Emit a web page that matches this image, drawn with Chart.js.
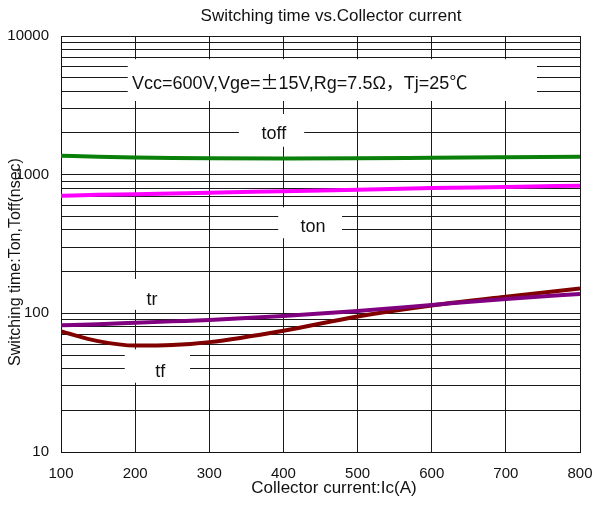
<!DOCTYPE html>
<html>
<head>
<meta charset="utf-8">
<script src="https://cdn.jsdelivr.net/npm/chart.js@4"></script>
<style>
html,body{margin:0;padding:0;background:#fff;}
canvas{display:block;}
</style>
</head>
<body>
<canvas id="c" width="599" height="506"></canvas>
<script>
// ---- data ----
const currents = [100, 150, 200, 250, 300, 400, 500, 600, 700, 800];
const toff = [1370, 1345, 1330, 1320, 1315, 1310, 1315, 1325, 1335, 1345];
const ton  = [705, 715, 722, 731, 740, 760, 780, 800, 815, 833];
const tr   = [82, 83.5, 85.5, 87.5, 89.5, 95.5, 104, 115, 127, 138];
const tf   = [74, 63, 58.5, 59, 62, 75, 95, 114, 132, 151];

const xTickValues = [100, 200, 300, 400, 500, 600, 700, 800];
const yGridValues = [10,20,30,40,50,60,70,80,90,
                     100,200,300,400,500,600,700,800,900,
                     1000,2000,3000,4000,5000,6000,7000,8000,9000,10000];
const yTickLabels = [10, 100, 1000, 10000];

const chartTitle = 'Switching time vs.Collector current';
const xTitle = 'Collector current:Ic(A)';
const yTitle = 'Switching time:Ton,Toff(nsec)';
const seriesNames = ['toff', 'ton', 'tr', 'tf'];

// ---- annotation layout (data coordinates) ----
const LATIN = '"Liberation Sans", Arial, sans-serif';
const CJK = '"Noto Sans CJK SC", sans-serif';
const labelBoxes = [
  {x0: 190, x1: 742, y0: 3400, y1: 6800},
  {x0: 340, x1: 428, y0: 1590, y1: 2740},
  {x0: 393, x1: 479, y0: 348,  y1: 582},
  {x0: 186, x1: 260, y0: 106,  y1: 177},
  {x0: 186, x1: 274, y0: 31.6, y1: 55}
];
const seriesLabelPos = [
  {x: 387, y: 1808},
  {x: 440, y: 383},
  {x: 222.7, y: 114.9},
  {x: 234, y: 35}
];
const conditionPos = {x: 195.8, y: 4147};
const conditionRuns = [
  {t: 'Vcc=600V,Vge=', f: LATIN},
  {t: '\u00B1', f: CJK, em: 1, center: true},
  {t: '15V,Rg=7.5\u03A9', f: LATIN},
  {t: '\uFF0C', f: CJK, em: 1},
  {t: 'Tj=25', f: LATIN},
  {t: '\u2103', f: CJK, em: 1}
];

function drawRuns(ctx, runs, x, y, size) {
  ctx.textAlign = 'left';
  ctx.textBaseline = 'alphabetic';
  let cx = x;
  for (const r of runs) {
    ctx.font = size + 'px ' + r.f;
    const w = ctx.measureText(r.t).width;
    if (r.em) {
      const adv = r.em * size;
      ctx.fillText(r.t, r.center ? cx + (adv - w) / 2 : cx, y);
      cx += adv;
    } else {
      ctx.fillText(r.t, cx, y);
      cx += w;
    }
  }
}

const annotations = {
  id: 'annotations',
  beforeDraw(chart) {
    const ctx = chart.ctx;
    ctx.save();
    ctx.fillStyle = '#fff';
    ctx.fillRect(0, 0, chart.width, chart.height);
    ctx.restore();
  },
  beforeDatasetsDraw(chart) {
    const {ctx, scales: {x, y}} = chart;
    ctx.save();
    ctx.fillStyle = '#fff';
    for (const b of labelBoxes) {
      const l = x.getPixelForValue(b.x0), r = x.getPixelForValue(b.x1);
      const t = y.getPixelForValue(b.y1), btm = y.getPixelForValue(b.y0);
      ctx.fillRect(l, t, r - l, btm - t);
    }
    ctx.restore();
  },
  afterDatasetsDraw(chart) {
    const {ctx, scales: {x, y}} = chart;
    ctx.save();
    ctx.fillStyle = '#111';
    ctx.font = '18px ' + LATIN;
    ctx.textAlign = 'center';
    ctx.textBaseline = 'alphabetic';
    seriesNames.forEach((n, i) => {
      const p = seriesLabelPos[i];
      ctx.fillText(n, x.getPixelForValue(p.x), y.getPixelForValue(p.y));
    });
    drawRuns(ctx, conditionRuns, x.getPixelForValue(conditionPos.x), y.getPixelForValue(conditionPos.y), 18);
    ctx.font = '17px ' + LATIN;
    ctx.textAlign = 'center';
    ctx.fillText(chartTitle, 331, 21);
    ctx.fillText(xTitle, 334, 493);
    ctx.save();
    ctx.translate(20, 262);
    ctx.rotate(-Math.PI / 2);
    ctx.font = '16px ' + LATIN;
    ctx.fillText(yTitle, 0, 0);
    ctx.restore();
    ctx.restore();
  }
};

const pts = arr => currents.map((c, i) => ({x: c, y: arr[i]}));
const colors = ['#0a800a', '#ff00ff', '#800080', '#800000'];
const seriesData = [toff, ton, tr, tf];

new Chart(document.getElementById('c'), {
  type: 'line',
  data: {
    datasets: seriesData.map((arr, i) => ({
      label: seriesNames[i],
      data: pts(arr),
      borderColor: colors[i],
      borderWidth: 4,
      pointRadius: 0,
      fill: false,
      cubicInterpolationMode: 'monotone'
    }))
  },
  options: {
    responsive: false,
    animation: false,
    devicePixelRatio: 1,
    layout: {padding: {top: 36, right: 19, bottom: 0, left: 0}},
    plugins: {legend: {display: false}, tooltip: {enabled: false}, title: {display: false}},
    scales: {
      x: {
        type: 'linear',
        min: 100, max: 800,
        afterBuildTicks: s => { s.ticks = xTickValues.map(v => ({value: v})); },
        afterFit: s => { s.height = 54; s.paddingRight = 12; s.paddingLeft = 12; },
        ticks: {autoSkip: false, padding: 13, color: '#111', font: {family: LATIN, size: 15}, maxRotation: 0},
        grid: {color: '#1a1a1a', lineWidth: 1, drawTicks: false},
        border: {color: '#111', width: 1}
      },
      y: {
        type: 'logarithmic',
        min: 10, max: 10000,
        afterBuildTicks: s => { s.ticks = yGridValues.map(v => ({value: v})); },
        afterFit: s => { s.width = 61; },
        ticks: {
          autoSkip: false, padding: 12, color: '#111', font: {family: LATIN, size: 15},
          callback: v => yTickLabels.includes(v) ? String(v) : ''
        },
        grid: {color: '#1a1a1a', lineWidth: 1, drawTicks: false},
        border: {color: '#111', width: 1}
      }
    }
  },
  plugins: [annotations]
});
</script>
</body>
</html>
